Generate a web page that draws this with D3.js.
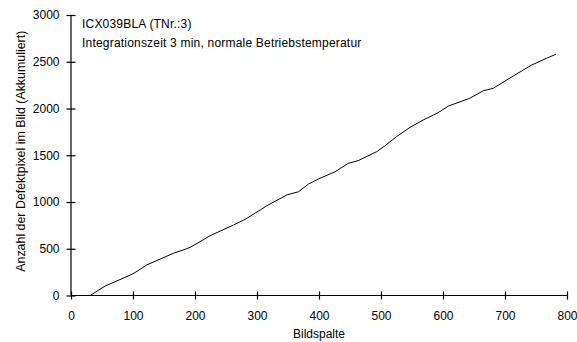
<!DOCTYPE html>
<html>
<head>
<meta charset="utf-8">
<script src="https://cdn.jsdelivr.net/npm/d3@7"></script>
<style>
  body { margin: 0; background: #fff; }
  text { font-family: "Liberation Sans", Arial, sans-serif; }
</style>
</head>
<body>
<svg id="chart"></svg>
<script>
  var spalte = [31, 55, 92, 103, 122, 165, 184, 192, 208, 224, 262, 281, 318, 348, 367, 383, 399,
    426, 447, 463, 493, 506, 525, 547, 568, 592, 609, 643, 665, 681, 716, 743, 767, 782];
  var defekte = [0, 101, 208, 244, 326, 451, 494, 515, 575, 638, 754, 815, 968, 1075, 1110, 1192, 1246,
    1324, 1413, 1442, 1538, 1599, 1699, 1799, 1877, 1955, 2027, 2109, 2190, 2216, 2358, 2465, 2537, 2580];
  var xTicks = [0, 100, 200, 300, 400, 500, 600, 700, 800];
  var yTicks = [0, 500, 1000, 1500, 2000, 2500, 3000];
  var titel = ["ICX039BLA (TNr.:3)", "Integrationszeit 3 min, normale Betriebstemperatur"];

  var W = 577, H = 342;
  var margin = {top: 15, right: 10, bottom: 46.5, left: 71},
    width = 567 - margin.left,
    height = 295.5 - margin.top;

  var svg = d3.select("#chart")
    .attr("width", W)
    .attr("height", H)
    .append("g")
    .attr("transform", "translate(" + margin.left + "," + margin.top + ")");

  var x = d3.scaleLinear().domain([0, 800]).range([0, width]);
  var y = d3.scaleLinear().domain([0, 3000]).range([height, 0]);

  var data = spalte.map((s, i) => ({s: s, n: defekte[i]}));

  // line
  svg.append("path")
    .datum(data)
    .attr("fill", "none")
    .attr("stroke", "#000")
    .attr("stroke-width", 1)
    .attr("d", d3.line().x(d => x(d.s)).y(d => y(d.n)));

  // axes, ticks cross the axis line
  var yAxis = svg.append("g")
    .call(d3.axisLeft(y).tickValues(yTicks).tickFormat(d3.format("d")).tickSize(4.5).tickPadding(7));
  var xAxis = svg.append("g")
    .attr("transform", "translate(0," + height + ")")
    .call(d3.axisBottom(x).tickValues(xTicks).tickFormat(d3.format("d")).tickSize(4).tickPadding(12));

  yAxis.selectAll(".tick line").attr("x1", 4.5);
  xAxis.selectAll(".tick line").attr("y1", -4);
  [yAxis, xAxis].forEach(a => {
    a.select(".domain").attr("stroke", "#000").attr("stroke-width", 1.2);
    a.selectAll(".tick line").attr("stroke", "#000").attr("stroke-width", 1.2);
    a.selectAll("text")
      .attr("font-family", "Liberation Sans, Arial, sans-serif")
      .attr("font-size", "12px")
      .attr("fill", "#000");
  });
  xAxis.select(".domain").attr("d", "M0,0H" + width);
  yAxis.select(".domain").attr("d", "M0," + height + "V0");

  // titles inside plot
  svg.selectAll(".titel")
    .data(titel)
    .enter()
    .append("text")
      .attr("class", "titel")
      .attr("x", 11)
      .attr("y", (d, i) => 12.5 + i * 19.8)
      .attr("font-size", "12px")
      .attr("letter-spacing", "0.2px")
      .text(d => d);

  svg.append("text")
    .attr("transform", "translate(" + (width / 2) + " ," + (height + 42) + ")")
    .style("text-anchor", "middle")
    .attr("font-size", "12px")
    .text("Bildspalte");

  svg.append("text")
    .attr("transform", "rotate(-90)")
    .attr("x", -(height / 2) + 4)
    .attr("y", -46)
    .style("text-anchor", "middle")
    .attr("font-size", "12.4px")
    .text("Anzahl der Defektpixel im Bild (Akkumuliert)");
</script>
</body>
</html>
